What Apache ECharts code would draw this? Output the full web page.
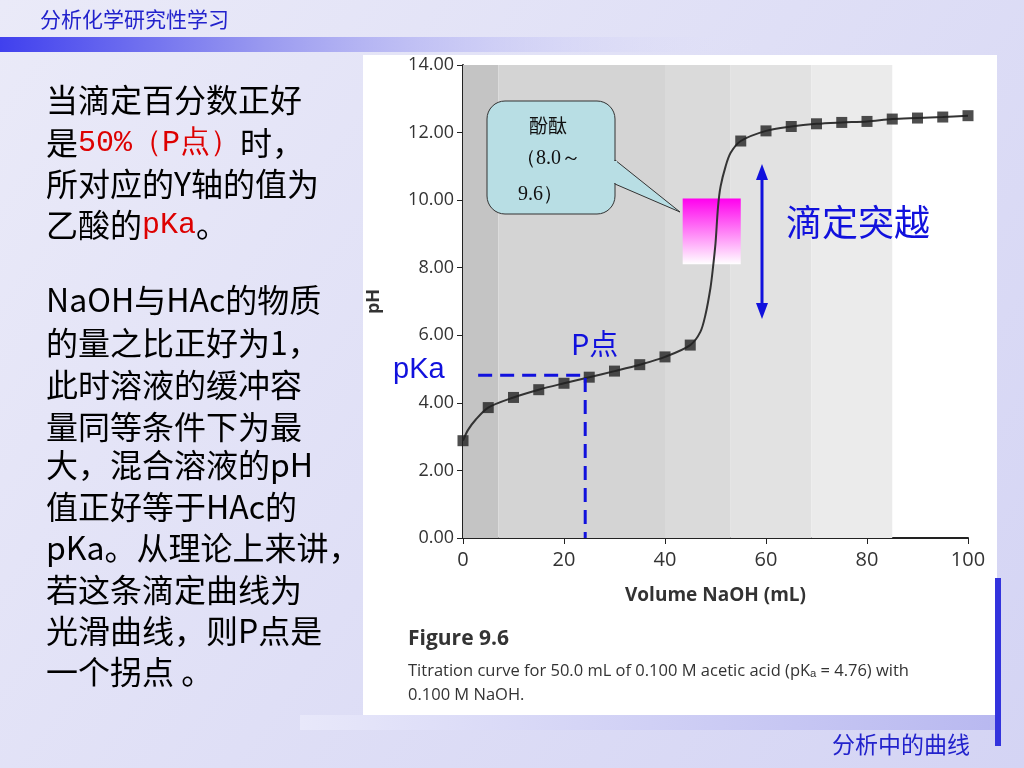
<!DOCTYPE html><html><head><meta charset="utf-8">
<script src="https://cdn.jsdelivr.net/npm/echarts@6/dist/echarts.min.js"></script>
<style>html,body{margin:0;padding:0}#c{width:1024px;height:768px}</style></head><body><div id="c"></div>
<script>
const markerX=[0,5,10,15,20,25,30,35,40,45,55,60,65,70,75,80,85,90,95,100];
const markerY=[2.88,3.86,4.16,4.39,4.58,4.76,4.94,5.13,5.36,5.71,11.75,12.05,12.18,12.26,12.3,12.33,12.4,12.43,12.46,12.5];
const curveX=[0,1,2.5,5,10,15,20,25,30,35,40,45,47,48,49,49.5,50,50.5,51,52,53,55,60,65,70,75,80,85,90,95,100];
const curveY=[2.88,3.2,3.5,3.86,4.16,4.39,4.58,4.76,4.94,5.13,5.36,5.71,6.1,6.6,7.4,8.0,8.72,9.8,10.4,11.0,11.4,11.75,12.05,12.18,12.26,12.3,12.33,12.4,12.43,12.46,12.5];
const yTicks=[0,2,4,6,8,10,12,14];
const bands=[[0,7,'#c4c4c4'],[7,40,'#d4d4d4'],[40,53,'#dadada'],[53,69,'#e2e2e2'],[69,85,'#ebebeb']];
const pKa=4.82, pX=24.2;
const leftLines=[['当滴定百分数正好',105],['是|50%（P点）|时，',148],['所对应的Y轴的值为',189],['乙酸的|pKa|。',230],
['NaOH与HAc的物质',305],['的量之比正好为1，',348],['此时溶液的缓冲容',390],['量同等条件下为最',432],['大，混合溶液的pH',470],['值正好等于HAc的',512],['pKa。从理论上来讲，',553],['若这条滴定曲线为',595],['光滑曲线，则P点是',636],['一个拐点 。',677]];
const F='"Noto Sans CJK SC", sans-serif';
const chart=echarts.init(document.getElementById('c'));
const g=[];
g.push({type:'rect',shape:{x:0,y:0,width:1024,height:768},style:{fill:new echarts.graphic.LinearGradient(0,0,1,1,[{offset:0,color:'#eaeaf8'},{offset:1,color:'#d4d4f4'}])},z:-10});
g.push({type:'rect',shape:{x:0,y:37,width:760,height:15},style:{fill:new echarts.graphic.LinearGradient(0,0,1,0,[{offset:0,color:'#4040ee'},{offset:0.35,color:'#9a9af0'},{offset:1,color:'rgba(230,230,250,0)'}])},z:-9});
g.push({type:'rect',shape:{x:363,y:55,width:634,height:660},style:{fill:'#fff'},z:-8});
g.push({type:'rect',shape:{x:300,y:715,width:700,height:15},style:{fill:new echarts.graphic.LinearGradient(0,0,1,0,[{offset:0,color:'#e8e8fa'},{offset:1,color:'#b8b8f0'}])},z:-7});
g.push({type:'rect',shape:{x:995,y:578,width:6,height:168},style:{fill:'#3333dd'}});
g.push({type:'text',left:40,top:9,style:{text:'分析化学研究性学习',fill:'#2222cc',font:'21px '+F}});
g.push({type:'text',left:832,top:733,style:{text:'分析中的曲线',fill:'#2222cc',font:'23px '+F}});
leftLines.forEach(([t,y])=>{
  const parts=t.split('|');let rich={n:{fill:'#000',font:'32px '+F},r:{fill:'#dd0000',font:'30px "Liberation Mono", monospace'}};
  let s=parts.map((p,i)=>i%2?'{r|'+p+'}':'{n|'+p+'}').join('');
  g.push({type:'text',left:46,top:y-21,style:{text:s,rich:rich}});
});
g.push({type:'rect',shape:{x:487,y:101,width:128,height:113,r:18},style:{fill:'#b8dee4',stroke:'#333',lineWidth:1},z:5});
g.push({type:'polygon',shape:{points:[[615,160],[680,212],[615,184]]},style:{fill:'#b8dee4',stroke:'#333',lineWidth:1},z:5});
g.push({type:'rect',shape:{x:612,y:161,width:5,height:22},style:{fill:'#b8dee4'},z:5});
g.push({type:'text',left:529,top:116,style:{text:'酚酞',font:'19px '+F,fill:'#111'},z:6});
g.push({type:'text',left:516,top:149,style:{text:'（8.0～',font:'20px "Liberation Serif", serif',fill:'#111'},z:6});
g.push({type:'text',left:518,top:185,style:{text:'9.6）',font:'20px "Liberation Serif", serif',fill:'#111'},z:6});
g.push({type:'line',shape:{x1:762,y1:175,x2:762,y2:308},style:{stroke:'#1111dd',lineWidth:3},z:6});
g.push({type:'polygon',shape:{points:[[762,164],[756,180],[768,180]]},style:{fill:'#1111dd'},z:6});
g.push({type:'polygon',shape:{points:[[762,319],[756,303],[768,303]]},style:{fill:'#1111dd'},z:6});
g.push({type:'text',left:786,top:204,style:{text:'滴定突越',font:'36px '+F,fill:'#1111dd'},z:6});
g.push({type:'text',left:393,top:355,style:{text:'pKa',font:'29px "Liberation Sans", sans-serif',fill:'#1111dd'},z:6});
g.push({type:'text',left:571,top:329,style:{text:'P点',font:'29px '+F,fill:'#1111dd'},z:6});
g.push({type:'text',left:408,top:629,style:{text:'Figure 9.6',font:'bold 21px "Open Sans", sans-serif',fill:'#333'}});
g.push({type:'text',left:408,top:663,style:{text:'Titration curve for 50.0 mL of 0.100 M acetic acid (pKₐ = 4.76) with',font:'16.5px "Open Sans", sans-serif',fill:'#333'}});
g.push({type:'text',left:408,top:687,style:{text:'0.100 M NaOH.',font:'16.5px "Open Sans", sans-serif',fill:'#333'}});
chart.setOption({
 animation:false,
 graphic:g,
 grid:{left:463,right:56,top:65,bottom:230},
 xAxis:{type:'value',min:0,max:100,interval:20,name:'Volume NaOH (mL)',nameLocation:'middle',nameGap:48,
  nameTextStyle:{fontSize:19,fontWeight:'bold',color:'#333',fontFamily:'Open Sans'},
  axisLine:{lineStyle:{color:'#222',width:2}},axisTick:{length:6,lineStyle:{color:'#222'}},splitLine:{show:false},
  axisLabel:{fontSize:20,color:'#333',fontFamily:'Open Sans',margin:12}},
 yAxis:{type:'value',min:0,max:14,interval:2,name:'pH',nameLocation:'middle',nameGap:80,
  nameTextStyle:{fontSize:18,fontWeight:'bold',color:'#333',fontFamily:'Open Sans'},
  axisLine:{show:true,lineStyle:{color:'#222',width:2}},axisTick:{show:true,length:6,lineStyle:{color:'#222'}},splitLine:{show:false},
  axisLabel:{fontSize:18,color:'#333',fontFamily:'Open Sans',margin:9,formatter:v=>v.toFixed(2)}},
 series:[
  {type:'line',data:curveX.map((x,i)=>[x,curveY[i]]),smooth:0.3,showSymbol:false,lineStyle:{color:'#333',width:2},
   markArea:{silent:true,data:bands.map(b=>[{xAxis:b[0],itemStyle:{color:b[2]}},{xAxis:b[1]}]).concat([[{coord:[43.5,10.05],itemStyle:{color:new echarts.graphic.LinearGradient(0,0,0,1,[{offset:0,color:'#ff00ee'},{offset:1,color:'#ffffff'}])}},{coord:[55,8.1]}]])},z:3},
  {type:'scatter',data:markerX.map((x,i)=>[x,markerY[i]]),symbol:'rect',symbolSize:11,itemStyle:{color:'#222'},z:4},
  {type:'line',data:[[3,pKa],[pX,pKa],[pX,0]],showSymbol:false,lineStyle:{color:'#1111dd',width:3,type:[14,8]},z:5}
 ]
});
</script></body></html>
